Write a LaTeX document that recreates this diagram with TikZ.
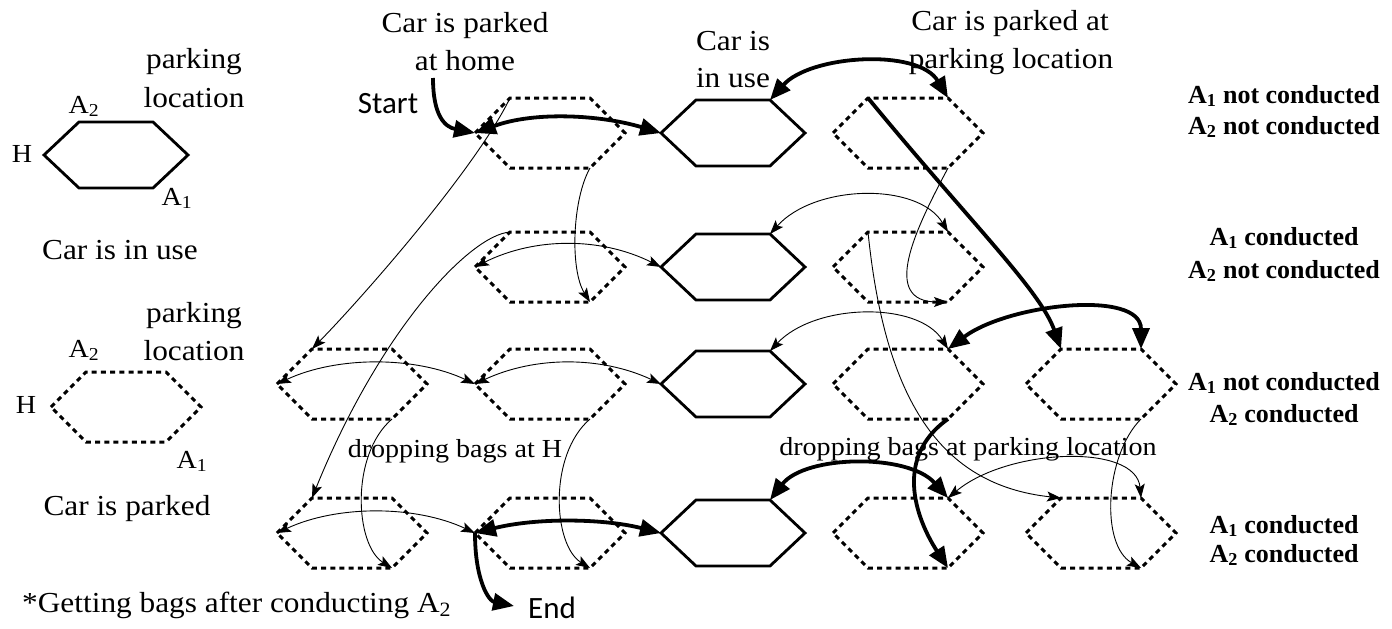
\documentclass[tikz,border=0pt]{standalone}
\usepackage{fontspec}
\setmainfont[FakeStretch=1.08]{Liberation Serif}
\newfontfamily\lblfont{Liberation Serif}
\newfontfamily\sansf{Carlito}
\usetikzlibrary{arrows.meta}

\tikzset{
  shex/.style={line width=2.8pt, line join=miter},
  dhex/.style={line width=3pt, dash pattern=on 5pt off 4.2pt},
  thk/.style={line width=3.8pt},
  thn/.style={line width=0.9pt},
  bigtip/.tip={Triangle[length=21pt,width=17pt]},
  smalltip/.tip={Stealth[length=14pt,width=10pt,inset=3pt]},
  lbl/.style={inner sep=0pt, anchor=base, font=\fontsize{29}{34}\selectfont},
  slbl/.style={inner sep=0pt, anchor=base, font=\fontsize{26}{30}\selectfont},
  albl/.style={inner sep=0pt, anchor=base, font=\fontsize{26}{30}\selectfont},
  rlbl/.style={inner sep=0pt, anchor=base, font=\lblfont\bfseries\fontsize{26}{30}\selectfont},
  sanslbl/.style={inner sep=0pt, anchor=base, font=\sansf\fontsize{31}{36}\selectfont},
}

\newcommand\hexd[3]{%
  \path (#2,#3) coordinate (#1) +(-75,0) coordinate (#1-l) +(-40,-35) coordinate (#1-tl)
    +(40,-35) coordinate (#1-tr) +(75,0) coordinate (#1-r) +(40,35) coordinate (#1-br)
    +(-40,35) coordinate (#1-bl);
  \draw[dhex] (#1-l)--(#1-tl)--(#1-tr)--(#1-r)--(#1-br)--(#1-bl)--cycle;}
\newcommand\hexs[3]{%
  \path (#2,#3) coordinate (#1) +(-72,0) coordinate (#1-l) +(-37,-33) coordinate (#1-tl)
    +(37,-33) coordinate (#1-tr) +(72,0) coordinate (#1-r) +(37,33) coordinate (#1-br)
    +(-37,33) coordinate (#1-bl);
  \draw[shex] (#1-l)--(#1-tl)--(#1-tr)--(#1-r)--(#1-br)--(#1-bl)--cycle;}

\begin{document}
\begin{tikzpicture}[x=1pt,y=-1pt]
\useasboundingbox (0,0) rectangle (1392,629);

% legend hexagons
\hexs{LS}{116}{155}
\hexd{LD}{126}{407}

% grid hexagons
\hexd{B1}{550}{133} \hexs{C1}{733}{133} \hexd{D1}{908}{133}
\hexd{B2}{550}{267} \hexs{C2}{733}{267} \hexd{D2}{908}{267}
\hexd{A3}{352}{384} \hexd{B3}{550}{384} \hexs{C3}{733}{384} \hexd{D3}{908}{384} \hexd{E3}{1101}{384}
\hexd{A4}{352}{533} \hexd{B4}{550}{533} \hexs{C4}{733}{533} \hexd{D4}{908}{533} \hexd{E4}{1101}{533}

% thin connectors
\draw[thn,-{smalltip}] (B1-tl) .. controls (475,170) and (360,300) .. (A3-tl);
\draw[thn,-{smalltip}] (B1-br) .. controls (572,200) and (570,270) .. (B2-br);
\draw[thn,{smalltip}-{smalltip}] (B2-l) .. controls +(60,-30) and +(-60,-30) .. (C2-l);
\draw[thn,-{smalltip}] (B2-tl) .. controls (470,235) and (380,330) .. (A4-tl);
\draw[thn,{smalltip}-{smalltip}] (A3-l) .. controls +(60,-28) and +(-60,-28) .. (B3-l);
\draw[thn,{smalltip}-{smalltip}] (B3-l) .. controls +(60,-28) and +(-60,-28) .. (C3-l);
\draw[thn,-{smalltip}] (A3-br) .. controls (350,455) and (355,545) .. (A4-br);
\draw[thn,{smalltip}-{smalltip}] (A4-l) .. controls +(60,-28) and +(-60,-28) .. (B4-l);
\draw[thn,-{smalltip}] (B3-br) .. controls (548,455) and (553,545) .. (B4-br);
\draw[thn,{smalltip}-{smalltip}] (C2-tr) .. controls +(45,-50) and +(-30,-50) .. (D2-tr);
\draw[thn,-{smalltip}] (D1-br) .. controls (915,230) and (880,302) .. (D2-br);
\draw[thn,-{smalltip}] (D2-tl) .. controls (885,400) and (940,485) .. (E4-tl);
\draw[thn,{smalltip}-{smalltip}] (D4-tr) .. controls +(60,-50) and +(-5,-55) .. (E4-tr);
\draw[thn,-{smalltip}] (E3-br) .. controls (1105,455) and (1100,545) .. (E4-br);
\draw[thn,{smalltip}-{smalltip}] (C3-tr) .. controls +(45,-48) and +(-30,-48) .. (D3-tr);

% thick connectors
\coordinate (startpt) at (433,78);
\coordinate (endpt) at (514,606);
\draw[thk,-{bigtip}] (startpt) .. controls +(0,38) and +(-30,-6) .. (B1-l);
\draw[thk,{bigtip}-{bigtip}] (B1-l) .. controls +(60,-22) and +(-60,-18) .. (C1-l);
\draw[thk,{bigtip}-{bigtip}] (C1-tr) .. controls +(40,-45) and +(-30,-50) .. (D1-tr);
\draw[thk,-{bigtip}] (D1-tl) .. controls (970,222) and (1040,290) .. (E3-tl);
\draw[thk,{bigtip}-{bigtip}] (D3-tr) .. controls +(60,-45) and +(0,-60) .. (E3-tr);
\draw[thk,-{bigtip}] (D3-br) .. controls (890,460) and (920,525) .. (D4-br);
\draw[thk,{bigtip}-{bigtip}] (C4-tr) .. controls +(35,-45) and +(-40,-45) .. (D4-tr);
\draw[thk,{bigtip}-{bigtip}] (B4-l) .. controls +(60,-15) and +(-60,-15) .. (C4-l);
\draw[thk,-{bigtip}] (B4-l) .. controls +(0,48) and +(-25,-5) .. (endpt);

% legend texts
\node[lbl] (lp1) at (194,68) {parking};
\node[lbl] (lp2) at (194,107) {location};
\node[albl] (la2) at (84,113) {A\textsubscript{2}};
\node[albl] (lh) at (22,162) {H};
\node[albl] (la1) at (177,205) {A\textsubscript{1}};
\node[lbl] (luse) at (120,259) {Car is in use};
\node[lbl] (lq1) at (194,322) {parking};
\node[lbl] (lq2) at (194,360) {location};
\node[albl] (lb2) at (84,357) {A\textsubscript{2}};
\node[albl] (lhh) at (26,413) {H};
\node[albl] (lb1) at (192,468) {A\textsubscript{1}};
\node[lbl] (lparked) at (127,515) {Car is parked};
\node[lbl,anchor=base west] (lget) at (22,612) {*Getting bags after conducting A\textsubscript{2}};

% top texts
\node[lbl] (th1) at (465,32) {Car is parked};
\node[lbl] (th2) at (465,70) {at home};
\node[sanslbl] (tstart) at (388,113) {Start};
\node[lbl] (tu1) at (733,50) {Car is};
\node[lbl] (tu2) at (733,87) {in use};
\node[lbl] (tp1) at (1010,30) {Car is parked at};
\node[lbl] (tp2) at (1011,68) {parking location};
\node[slbl] (tdh) at (455,457) {dropping bags at H};
\node[slbl] (tdp) at (968,455) {dropping bags at parking location};
\node[sanslbl] (tend) at (552,618) {End};

% right texts
\node[rlbl] (r11) at (1284,103) {A\textsubscript{1} not conducted};
\node[rlbl] (r12) at (1284,134) {A\textsubscript{2} not conducted};
\node[rlbl] (r21) at (1284,245) {A\textsubscript{1} conducted};
\node[rlbl] (r22) at (1284,278) {A\textsubscript{2} not conducted};
\node[rlbl] (r31) at (1284,390) {A\textsubscript{1} not conducted};
\node[rlbl] (r32) at (1284,422) {A\textsubscript{2} conducted};
\node[rlbl] (r41) at (1284,533) {A\textsubscript{1} conducted};
\node[rlbl] (r42) at (1284,562) {A\textsubscript{2} conducted};
\end{tikzpicture}
\end{document}
